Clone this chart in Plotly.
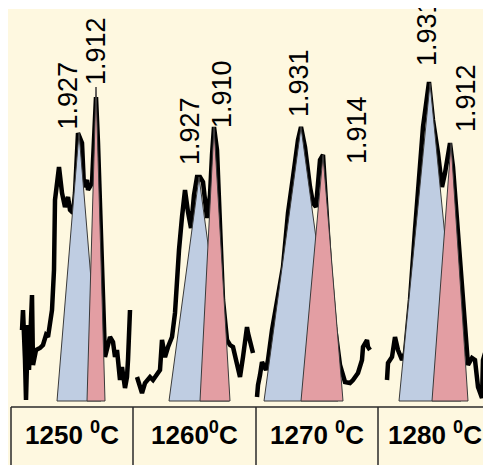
import plotly.graph_objects as go

# ---------------- data ----------------
# scan position (common horizontal scale across the four panels) and intensity (a.u.)
pos_1250 = [22, 23, 25, 26, 28, 29, 32, 33, 36, 40, 43, 46, 48, 50, 52, 54, 55, 59, 62, 65, 68, 70, 73, 75,
            78, 82, 84, 87, 88, 92, 93, 96, 98, 100, 103, 105, 110, 113, 115, 117, 120, 122, 125, 127, 128, 130]
int_1250 = [71, 91, 41, 1, 76, 31, 106, 36, 51, 53, 56, 66, 64, 76, 91, 131, 201, 234, 208, 194, 204, 191, 188, 208,
            268, 258, 214, 221, 211, 218, 241, 304, 258, 201, 126, 44, 64, 59, 44, 51, 21, 34, 13, 24, 41, 91]

pos_1260 = [137, 142, 145, 148, 150, 153, 157, 160, 162, 165, 168, 172, 175, 177, 179, 182, 185, 188, 191, 194,
            197, 200, 203, 207, 210, 212, 214, 217, 220, 223, 227, 230, 233, 237, 240, 243, 247, 248, 250, 253]
int_1260 = [24, 8, 18, 21, 24, 21, 28, 31, 61, 44, 54, 64, 88, 121, 151, 184, 211, 189, 173, 206,
            224, 224, 219, 183, 206, 246, 274, 251, 168, 101, 61, 56, 54, 39, 24, 44, 74, 68, 61, 48]

pos_1270 = [257, 258, 260, 262, 264, 266, 268, 272, 283, 288, 293, 298, 301, 305, 310, 313, 316, 320, 323, 325,
            330, 335, 340, 345, 350, 353, 355, 358, 362, 363, 367, 368, 370]
int_1270 = [4, 16, 26, 39, 35, 31, 41, 71, 134, 188, 224, 261, 274, 254, 214, 198, 194, 241, 246, 214,
            134, 74, 36, 19, 18, 21, 24, 28, 41, 54, 61, 54, 51]

pos_1280 = [387, 388, 392, 395, 398, 402, 405, 410, 415, 420, 423, 429, 433, 438, 442, 445, 450, 453, 458, 463,
            468, 472, 475, 478, 482, 483, 485]
int_1280 = [21, 38, 44, 64, 51, 41, 48, 101, 171, 234, 274, 319, 281, 248, 214, 228, 258, 234, 168, 101,
            36, 43, 41, 14, 3, 41, 48]

# fitted peaks: [left foot, centre, right foot, height] for the 1.93 (blue) and 1.91 (red) reflections
peak_a = {"1250": [57, 79, 101, 268], "1260": [169, 199, 229, 224], "1270": [264, 301, 338, 274], "1280": [399, 430, 461, 318]}
peak_b = {"1250": [87, 96, 105, 314], "1260": [200, 214, 230, 274], "1270": [301, 323, 343, 246], "1280": [432, 451, 468, 258]}

d_a = {"1250": "1.927", "1260": "1.927", "1270": "1.931", "1280": "1.931"}
d_b = {"1250": "1.912", "1260": "1.910", "1270": "1.914", "1280": "1.912"}

temperatures = ["1250", "1260", "1270", "1280"]
temp_labels = ["1250 <sup>0</sup>C", "1260<sup>0</sup>C", "1270 <sup>0</sup>C", "1280 <sup>0</sup>C"]

# ---------------- layout positions / styles ----------------
label_pos_a = {"1250": (67.5, 305), "1260": (190, 270), "1270": (299, 318), "1280": (427, 369)}
label_pos_b = {"1250": (96, 350), "1260": (222, 307), "1270": (357, 271), "1280": (466, 303)}
cell_edges = [11, 133, 256, 378, 491]
table_top = -6
table_bottom = -64
temp_label_y = -32

BLUE = "#BFCDE2"
RED = "#E39EA3"
CREAM = "#FEF8E0"
FONT = "Liberation Sans, Arial, sans-serif"

fig = go.Figure()

series = {"1250": (pos_1250, int_1250), "1260": (pos_1260, int_1260),
          "1270": (pos_1270, int_1270), "1280": (pos_1280, int_1280)}

for t in temperatures:
    xs, ys = series[t]
    fig.add_trace(go.Scatter(x=xs, y=ys, mode="lines", line=dict(color="black", width=4.5),
                             hoverinfo="skip"))

for t in temperatures:
    for pk, col in ((peak_a[t], BLUE), (peak_b[t], RED)):
        l, c, r, h = pk
        fig.add_trace(go.Scatter(x=[l, c, r, l], y=[0, h, 0, 0], mode="lines", fill="toself",
                                 fillcolor=col, line=dict(color="#3a3a3a", width=1), hoverinfo="skip"))

annotations = []
for t in temperatures:
    for pos, txt in ((label_pos_a[t], d_a[t]), (label_pos_b[t], d_b[t])):
        annotations.append(dict(x=pos[0], y=pos[1], xref="x", yref="y", text=txt, showarrow=False,
                                textangle=-90, xanchor="center", yanchor="middle",
                                font=dict(family=FONT, size=27, color="black")))

for i, lab in enumerate(temp_labels):
    cx = (cell_edges[i] + cell_edges[i + 1]) / 2
    annotations.append(dict(x=cx, y=temp_label_y, xref="x", yref="y", text="<b>" + lab + "</b>",
                            showarrow=False, xanchor="center", yanchor="middle",
                            font=dict(family=FONT, size=26, color="black")))

shapes = [dict(type="line", x0=cell_edges[0], x1=cell_edges[-1], y0=table_top, y1=table_top,
               xref="x", yref="y", line=dict(color="#2a2a2a", width=1.5))]
for xe in cell_edges[:-1]:
    shapes.append(dict(type="line", x0=xe, x1=xe, y0=table_top, y1=table_bottom,
                       xref="x", yref="y", line=dict(color="#2a2a2a", width=1.5)))

# the page places the figure 8 px from its top-left corner, so the figure is 8 px smaller
fig.update_layout(
    width=483, height=457,
    margin=dict(l=0, r=0, t=1, b=0),
    paper_bgcolor="white", plot_bgcolor=CREAM,
    showlegend=False,
    xaxis=dict(range=[8, 491], visible=False, fixedrange=True),
    yaxis=dict(range=[-64, 392], visible=False, fixedrange=True),
    annotations=annotations, shapes=shapes,
)

fig.write_html("out.html")
